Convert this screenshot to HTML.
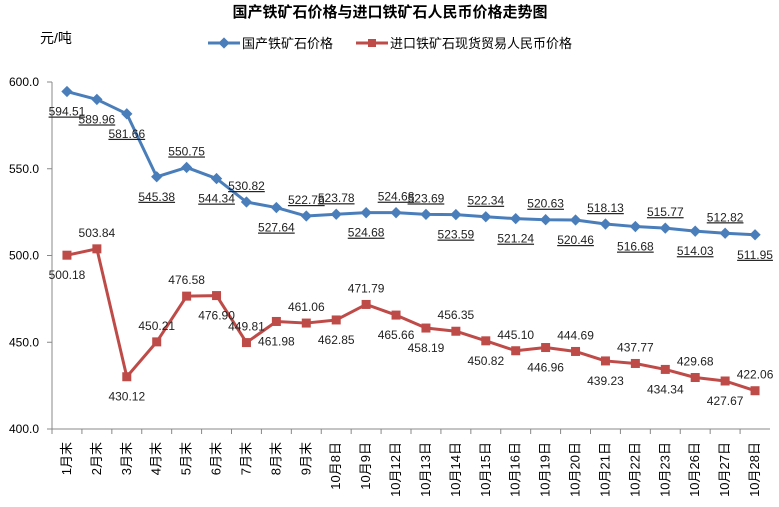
<!DOCTYPE html>
<html><head><meta charset="utf-8"><style>
body{margin:0;background:#fff;}
svg text{font-family:"Liberation Sans","Noto Sans CJK SC",sans-serif;}
</style></head><body>
<svg id="chart" width="779" height="502">
<text x="390" y="17" text-anchor="middle" font-size="15" font-weight="bold">国产铁矿石价格与进口铁矿石人民币价格走势图</text>
<text x="40" y="43" font-size="14">元/吨</text>
<g>
<line x1="208" y1="43" x2="240" y2="43" stroke="#4a7ebb" stroke-width="3"/>
<rect x="220" y="39" width="8" height="8" fill="#4a7ebb" transform="rotate(45 224 43)"/>
<text x="242" y="48" font-size="13">国产铁矿石价格</text></g>
<g>
<line x1="356" y1="43" x2="388" y2="43" stroke="#be4b48" stroke-width="3"/>
<rect x="368" y="39" width="8" height="8" fill="#be4b48"/>
<text x="390" y="48" font-size="13">进口铁矿石现货贸易人民币价格</text></g>
<g id="axes"></g><g id="marks"></g>
</svg>
<script>
const categories=["1月末","2月末","3月末","4月末","5月末","6月末","7月末","8月末","9月末","10月8日","10月9日","10月12日","10月13日","10月14日","10月15日","10月16日","10月19日","10月20日","10月21日","10月22日","10月23日","10月26日","10月27日","10月28日"];
const domestic=[594.51,589.96,581.66,545.38,550.75,544.34,530.82,527.64,522.76,523.78,524.68,524.68,523.69,523.59,522.34,521.24,520.63,520.46,518.13,516.68,515.77,514.03,512.82,511.95];
const imported=[500.18,503.84,430.12,450.21,476.58,476.90,449.81,461.98,461.06,462.85,471.79,465.66,458.19,456.35,450.82,445.10,446.96,444.69,439.23,437.77,434.34,429.68,427.67,422.06];
const yTicks=[400,450,500,550,600];
const domPos="bbbbababaabaabababababab";
const impPos="babaababababbabababababa";
const NS="http://www.w3.org/2000/svg";
const X0=52,X1=770,Y0=429,Y1=82,YMIN=400,YMAX=600;
const step=(X1-X0)/categories.length;
function xs(i){return X0+step*(i+0.5);}
function ys(v){return Y0-(v-YMIN)/(YMAX-YMIN)*(Y0-Y1);}
function mk(tag,at,par){const e=document.createElementNS(NS,tag);for(const k in at)e.setAttribute(k,at[k]);par.appendChild(e);return e;}
const axes=document.getElementById('axes'),marks=document.getElementById('marks');
const ya=mk('line',{x1:X0,y1:Y1,x2:X0,y2:Y0,stroke:'#888'},axes);


const xa=mk('line',{x1:X0,y1:Y0,x2:X1,y2:Y0,stroke:'#888'},axes);


yTicks.forEach(v=>{
 mk('line',{x1:X0-5,y1:ys(v),x2:X0,y2:ys(v),stroke:'#888'},axes);
 const t=mk('text',{x:X0-13,y:ys(v)+4,'text-anchor':'end','font-size':12},axes);
 t.textContent=v.toFixed(1);
 
 
});
categories.forEach((c,i)=>{
 mk('line',{x1:X0+step*i,y1:Y0,x2:X0+step*i,y2:Y0+5,stroke:'#888'},axes);
 const t=mk('text',{x:0,y:0,'text-anchor':'end','font-size':13,transform:`translate(${xs(i)+4},${Y0+13}) rotate(-90)`},axes);
 t.textContent=c;
 
 
});
function series(vals,color,shape,pos,name,underline){
 const pl=mk('polyline',{points:vals.map((v,i)=>xs(i)+','+ys(v)).join(' '),fill:'none',stroke:color,'stroke-width':3,'stroke-linejoin':'round'},marks);
 
 
 vals.forEach((v,i)=>{
  const x=xs(i),y=ys(v);let m;
  if(shape==='d')m=mk('rect',{x:x-4,y:y-4,width:8,height:8,fill:color,transform:`rotate(45 ${x} ${y})`},marks);
  else m=mk('rect',{x:x-4.5,y:y-4.5,width:9,height:9,fill:color},marks);
  
  
  const ly=pos[i]==='a'?y-12:y+24;
  const t=mk('text',{x:x,y:ly,'text-anchor':'middle','font-size':12,fill:'#222','text-decoration':underline?'underline':'none'},marks);
  t.textContent=v.toFixed(2);
  
  
 });
}
series(domestic,'#4a7ebb','d',domPos,'domestic-price',true);
series(imported,'#be4b48','s',impPos,'import-price',false);
</script>
</body></html>
